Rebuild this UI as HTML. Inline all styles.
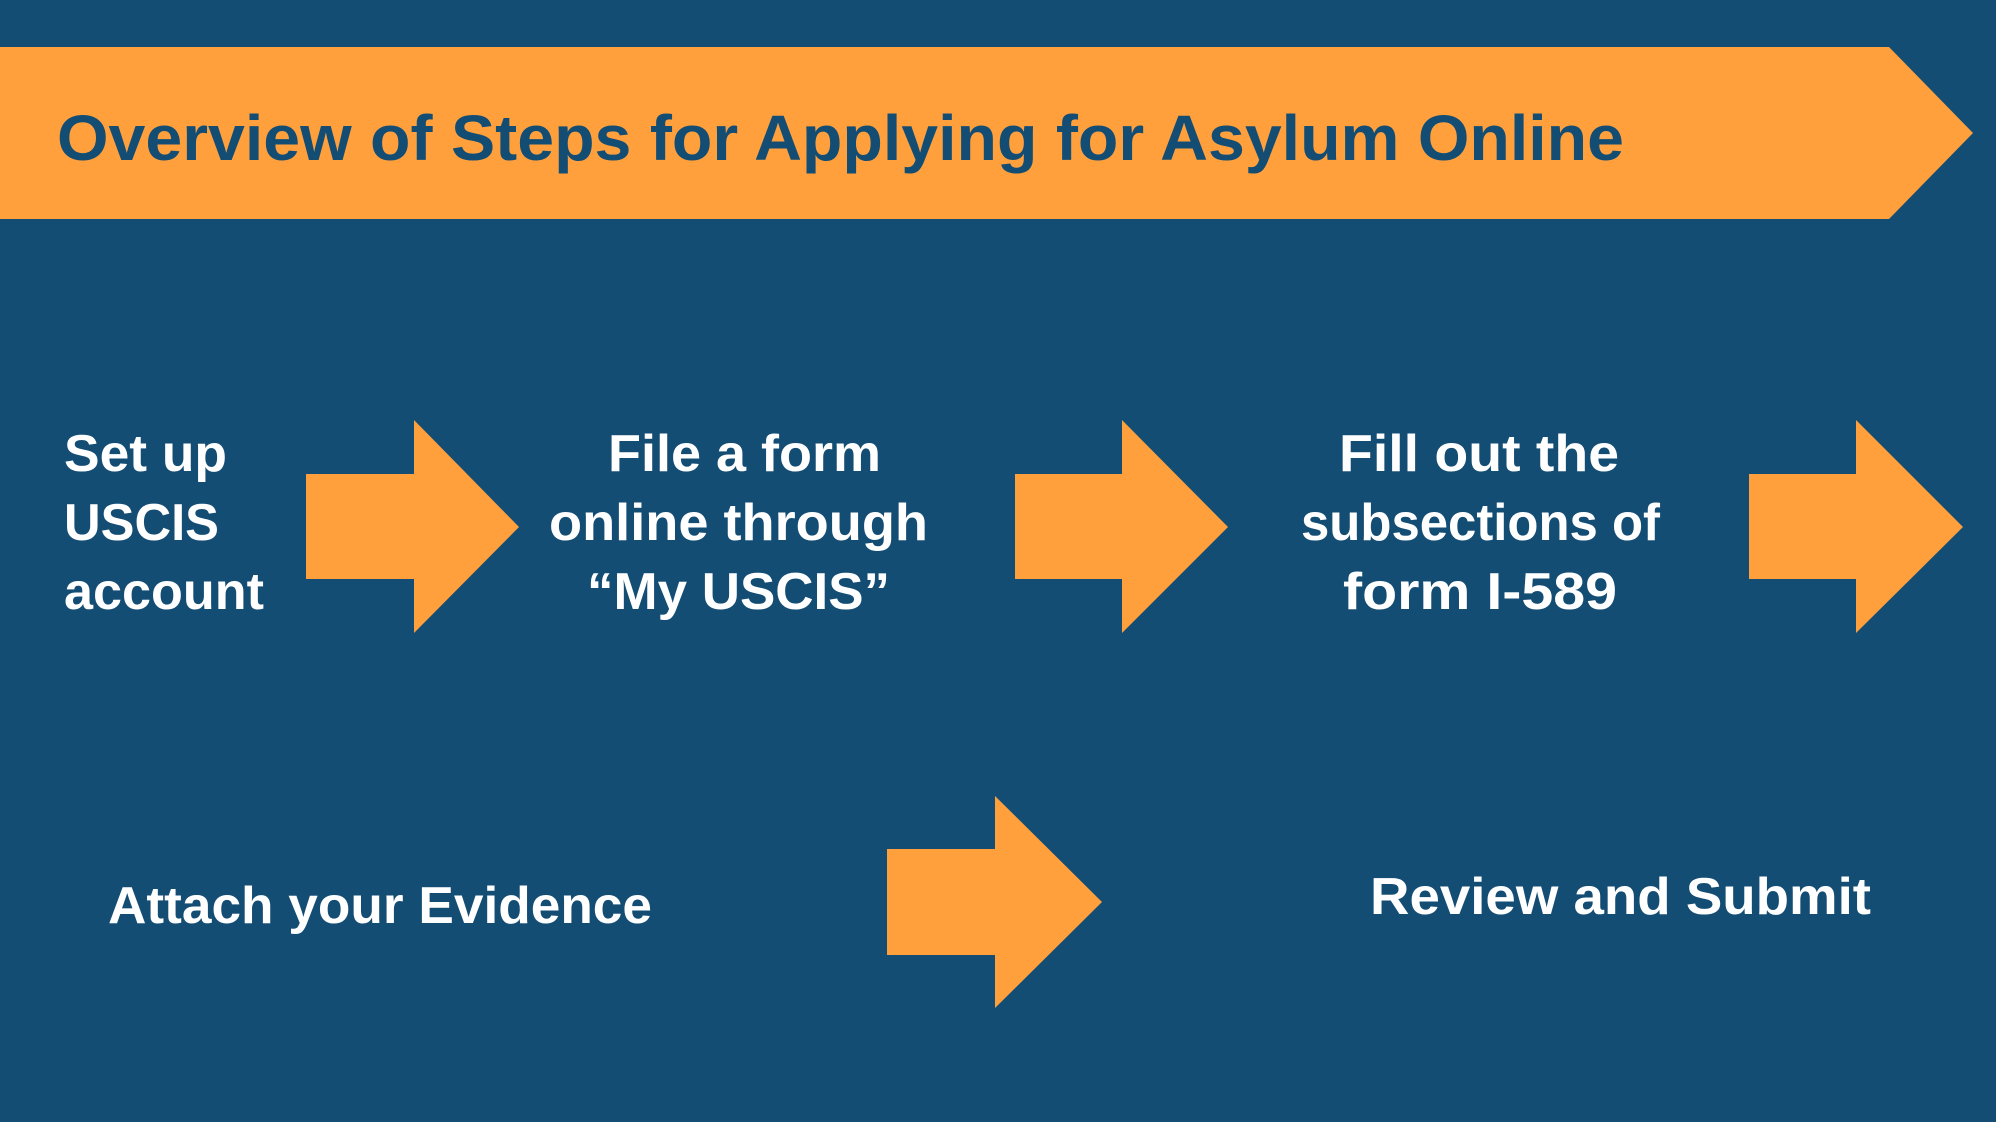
<!DOCTYPE html>
<html><head><meta charset="utf-8"><style>
html,body{margin:0;padding:0;background:#144d74;}
svg{display:block;}
text{font-family:"Liberation Sans",sans-serif;font-weight:bold;}
</style></head><body>
<svg width="1996" height="1122" viewBox="0 0 1996 1122">
<rect width="1996" height="1122" fill="#144d74"/>
<polygon points="0,47 1889,47 1973,133 1889,219 0,219" fill="#ffa03d"/>
<text x="57" y="160" font-size="64" fill="#144d74" textLength="1567" lengthAdjust="spacingAndGlyphs">Overview of Steps for Applying for Asylum Online</text>
<g fill="#ffa03d">
<polygon points="306,474 414,474 414,420 519,527 414,633 414,579 306,579"/>
<polygon points="1015,474 1122,474 1122,420 1228,527 1122,633 1122,579 1015,579"/>
<polygon points="1749,474 1856,474 1856,420 1963,527 1856,633 1856,579 1749,579"/>
<polygon points="887,849 995,849 995,796 1102,902 995,1008 995,955 887,955"/>
</g>
<g fill="#ffffff" font-size="52">
<text x="64" y="471" textLength="163" lengthAdjust="spacingAndGlyphs">Set up</text>
<text x="64" y="540" textLength="155" lengthAdjust="spacingAndGlyphs">USCIS</text>
<text x="64" y="609" textLength="200" lengthAdjust="spacingAndGlyphs">account</text>
<text x="608" y="471" textLength="273" lengthAdjust="spacingAndGlyphs">File a form</text>
<text x="549" y="540" textLength="379" lengthAdjust="spacingAndGlyphs">online through</text>
<text x="587" y="609" textLength="303" lengthAdjust="spacingAndGlyphs">“My USCIS”</text>
<text x="1339" y="471" textLength="280" lengthAdjust="spacingAndGlyphs">Fill out  the</text>
<text x="1301" y="540" textLength="359" lengthAdjust="spacingAndGlyphs">subsections of</text>
<text x="1343" y="609" textLength="274" lengthAdjust="spacingAndGlyphs">form I-589</text>
<text x="108" y="923" textLength="544" lengthAdjust="spacingAndGlyphs">Attach your Evidence</text>
<text x="1370" y="914" textLength="501" lengthAdjust="spacingAndGlyphs">Review and Submit</text>
</g>
</svg>
</body></html>
